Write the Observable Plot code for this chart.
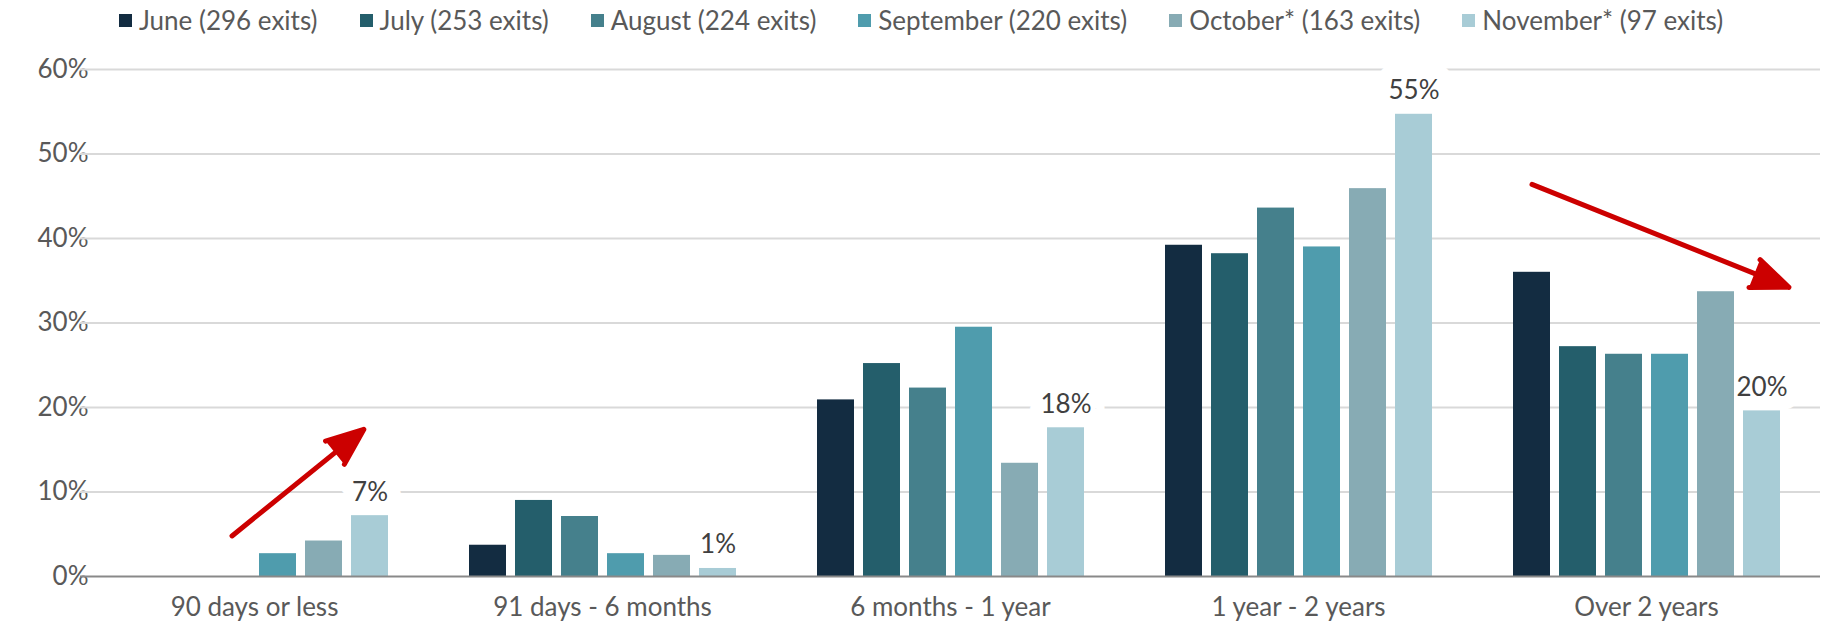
<!DOCTYPE html>
<html><head><meta charset="utf-8">
<script src="https://cdn.jsdelivr.net/npm/d3@7"></script>
<script src="https://cdn.jsdelivr.net/npm/@observablehq/plot@0.6"></script>
<style>
body{margin:0;background:#fff;font-family:Lato,sans-serif;}
#legend{box-sizing:border-box;height:36px;padding-top:4px;display:flex;align-items:center;padding-left:119px;font-size:26px;color:#595959;white-space:nowrap;}
.item{display:flex;align-items:center;margin-right:42px;}
.sw{width:13px;height:13px;margin-right:7px;}
</style></head><body>
<div id="legend"></div>
<div id="chart"></div>
<script>
const categories = ["90 days or less", "91 days - 6 months", "6 months - 1 year", "1 year - 2 years", "Over 2 years"];
const months = ["June", "July", "August", "September", "October", "November"];
const legendLabels = ["June (296 exits)", "July (253 exits)", "August (224 exits)", "September (220 exits)", "October* (163 exits)", "November* (97 exits)"];
const colors = ["#132c41", "#245e6b", "#45808c", "#4f9cad", "#87abb4", "#a8ccd6"];
const yTicks = [0, 10, 20, 30, 40, 50, 60];

// percent of exits per length-of-stay bucket
const june      = [0,   3.7,  20.9, 39.2, 36.0];
const july      = [0,   9.0,  25.2, 38.2, 27.2];
const august    = [0,   7.1,  22.3, 43.6, 26.3];
const september = [2.7, 2.7,  29.5, 39.0, 26.3];
const october   = [4.2, 2.5,  13.4, 45.9, 33.7];
const november  = [7.2, 0.95, 17.6, 54.7, 19.6];
const series = [june, july, august, september, october, november];

// trend arrows (category, from month/value, to month/value)
const arrowUp = [{category: "90 days or less", from: "August", fromValue: 4.8, to: "November", toValue: 18.0}];
const arrowDown = [{category: "Over 2 years", from: "June", fromValue: 46.4, to: "November", toValue: 35.5}];

const data = months.flatMap((m, j) => categories.map((c, i) => ({category: c, month: m, value: series[j][i]})));

// legend
const legend = document.getElementById("legend");
legendLabels.forEach((t, i) => {
  const it = document.createElement("div"); it.className = "item";
  const sw = document.createElement("div"); sw.className = "sw"; sw.style.background = colors[i];
  const tx = document.createElement("span"); tx.textContent = t;
  it.appendChild(sw); it.appendChild(tx); legend.appendChild(it);
});

const red = "#cc0000";
const labelOpts = {filter: d => d.month === "November", fx: "category", x: "month", y: "value",
  text: d => Math.round(d.value) + "%", dy: -15, lineAnchor: "bottom", fontSize: 26};
const plot = Plot.plot({
  width: 1823, height: 593,
  marginTop: 33, marginBottom: 53, marginLeft: 78, marginRight: 1,
  style: {fontFamily: "Lato, sans-serif", fontSize: "26px", color: "#595959", background: "white"},
  fx: {domain: categories, paddingInner: 0.2, paddingOuter: 0.1, label: null, tickSize: 0, tickPadding: 21},
  x: {domain: months, paddingInner: 0.2, paddingOuter: 0.1, axis: null},
  y: {domain: [0, 60], ticks: yTicks, tickFormat: d => d + "%", tickSize: 0, tickPadding: 27, label: null},
  color: {domain: months, range: colors},
  marks: [
    Plot.ruleY(yTicks.filter(d => d > 0), {stroke: "#d9d9d9", strokeWidth: 2, insetLeft: -35, insetRight: -35}),
    // white label boxes that interrupt the gridlines (drawn beneath the bars)
    Plot.text(data, {...labelOpts, fill: "white", stroke: "white", strokeWidth: 28, strokeLinejoin: "round"}),
    Plot.barY(data, {fx: "category", x: "month", y: "value", fill: "month"}),
    Plot.ruleY([0], {stroke: "#898989", strokeWidth: 2, insetLeft: -35, insetRight: -35}),
    Plot.text(data, {...labelOpts, fill: "#404040"}),
    Plot.arrow(arrowUp, {fx: "category", x1: "from", y1: "fromValue", x2: "to", y2: "toValue",
      stroke: red, fill: red, strokeWidth: 5, headLength: 12, headAngle: 44, insetEnd: 8}),
    Plot.arrow(arrowDown, {fx: "category", x1: "from", y1: "fromValue", x2: "to", y2: "toValue",
      stroke: red, fill: red, strokeWidth: 5, headLength: 12, headAngle: 44, insetEnd: -29})
  ]
});
document.getElementById("chart").appendChild(plot);
</script>
</body></html>
